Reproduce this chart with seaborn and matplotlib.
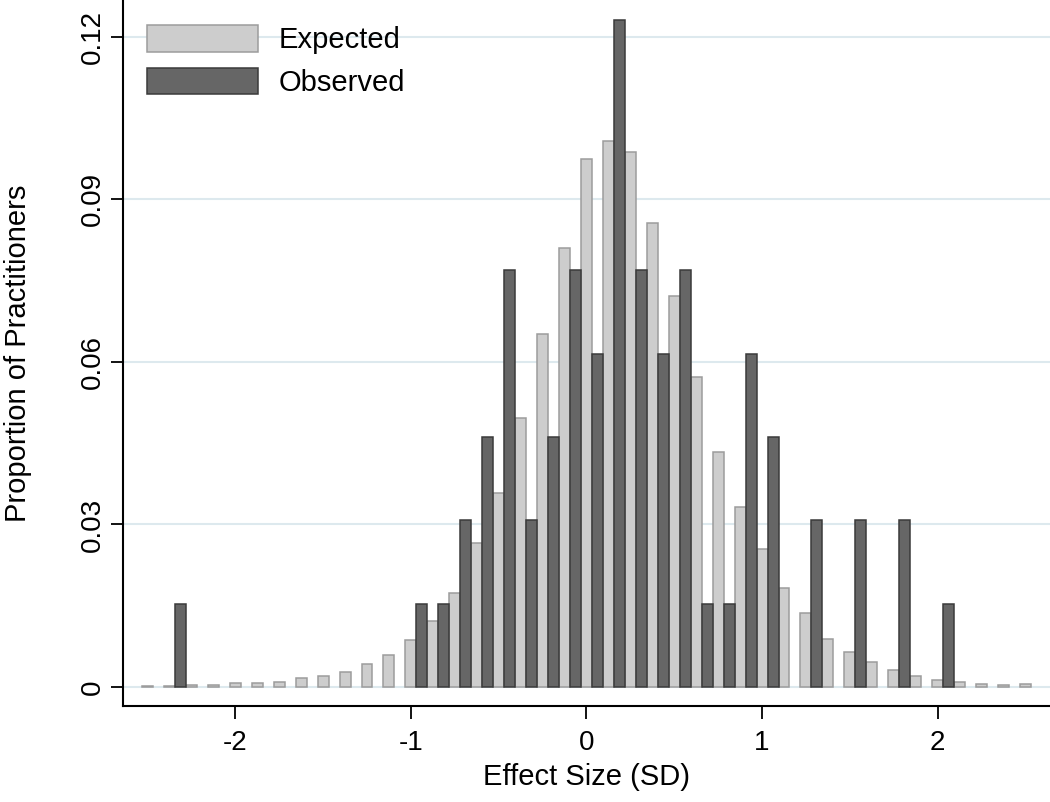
import numpy as np
import pandas as pd
import matplotlib
matplotlib.use('Agg')
import matplotlib.pyplot as plt
from matplotlib.patches import Patch
import seaborn as sns

# bin positions (SD), one pair of bars per bin
bins = [-2.5, -2.375, -2.25, -2.125, -2.0, -1.875, -1.75, -1.625, -1.5, -1.375,
        -1.25, -1.125, -1.0, -0.875, -0.75, -0.625, -0.5, -0.375, -0.25, -0.125,
        0.0, 0.125, 0.25, 0.375, 0.5, 0.625, 0.75, 0.875, 1.0, 1.125,
        1.25, 1.375, 1.5, 1.625, 1.75, 1.875, 2.0, 2.125, 2.25, 2.375, 2.5]

expected = [0.0002, 0.0002, 0.0003, 0.0003, 0.0007, 0.0007, 0.0010, 0.0016, 0.0021, 0.0027,
            0.0042, 0.0060, 0.0086, 0.0122, 0.0174, 0.0265, 0.0359, 0.0496, 0.0652, 0.0810,
            0.0974, 0.1008, 0.0988, 0.0856, 0.0721, 0.0572, 0.0433, 0.0332, 0.0255, 0.0183,
            0.0137, 0.0088, 0.0064, 0.0046, 0.0031, 0.0020, 0.0013, 0.0009, 0.0006, 0.0003,
            0.0005]

observed = [0, 0.0154, 0, 0, 0, 0, 0, 0, 0, 0,
            0, 0, 0.0154, 0.0154, 0.0308, 0.0462, 0.0769, 0.0308, 0.0462, 0.0769,
            0.0615, 0.1231, 0.0769, 0.0615, 0.0769, 0.0154, 0.0154, 0.0615, 0.0462, 0,
            0.0308, 0, 0.0308, 0, 0.0308, 0, 0.0154, 0, 0, 0,
            0]

y_ticks = [0, 0.03, 0.06, 0.09, 0.12]
y_labels = ['0', '0.03', '0.06', '0.09', '0.12']
x_ticks = [-2, -1, 0, 1, 2]
x_labels = ['-2', '-1', '0', '1', '2']

df_exp = pd.DataFrame({'effect': bins, 'prop': expected})
df_obs = pd.DataFrame({'effect': np.array(bins) + 0.0625, 'prop': observed})
df_obs = df_obs[df_obs['prop'] > 0]

sns.set_style('white')
plt.rcParams['font.family'] = ['Liberation Sans', 'DejaVu Sans']
plt.rcParams['text.color'] = 'black'
plt.rcParams['axes.labelcolor'] = 'black'
plt.rcParams['xtick.color'] = 'black'
plt.rcParams['ytick.color'] = 'black'

fig = plt.figure(figsize=(10.5, 8.02), dpi=100)
ax = fig.add_axes([0.1171, 0.1197, 0.8829, 0.8803])

light, light_edge = '#cdcdcd', '#9c9c9c'
dark, dark_edge = '#666666', '#3a3a3a'

sns.barplot(data=df_exp, x='effect', y='prop', native_scale=True, width=0.5,
            color=light, saturation=1, edgecolor=light_edge, linewidth=1.1, ax=ax)
sns.barplot(data=df_obs, x='effect', y='prop', native_scale=True, width=0.5,
            color=dark, saturation=1, edgecolor=dark_edge, linewidth=1.1, ax=ax)

ax.set_xlim(-2.64, 2.64)
ax.set_ylim(-0.0035, 0.1268)
ax.set_xticks(x_ticks)
ax.set_xticklabels(x_labels, fontsize=20)
ax.set_yticks(y_ticks)
ax.set_yticklabels(y_labels, fontsize=20, rotation=90, va='center')

ax.yaxis.grid(True, color='#dde9ee', linewidth=1.5)
ax.xaxis.grid(False)
ax.set_axisbelow(True)

sns.despine(ax=ax, top=True, right=True)
for s in ['left', 'bottom']:
    ax.spines[s].set_linewidth(1.5)
    ax.spines[s].set_color('black')
ax.tick_params(axis='both', direction='out', length=9, width=1.3, color='black',
               labelcolor='black', left=True, bottom=True)
ax.tick_params(axis='y', pad=3)
ax.tick_params(axis='x', pad=8)

ax.set_xlabel('Effect Size (SD)', fontsize=21, labelpad=5, color='black')
ax.set_ylabel('Proportion of Practitioners', fontsize=21, labelpad=35, color='black')

handles = [Patch(facecolor=light, edgecolor=light_edge, linewidth=1.1, label='Expected'),
           Patch(facecolor=dark, edgecolor=dark_edge, linewidth=1.1, label='Observed')]
leg = ax.legend(handles=handles, loc='upper left', bbox_to_anchor=(0.026, 0.964),
                frameon=False, fontsize=21, handlelength=3.8, handleheight=1.0,
                labelspacing=0.45, handletextpad=0.7, borderpad=0, borderaxespad=0)
for t in leg.get_texts():
    t.set_color('black')

plt.savefig('out.png', dpi=100)
